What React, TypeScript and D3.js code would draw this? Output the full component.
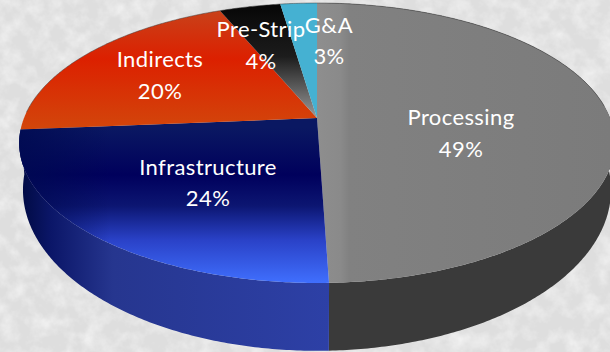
import React, { useMemo } from "react";
import * as d3 from "d3";

// Cost breakdown, percent of total, clockwise from twelve o'clock.
const categories = ["Processing", "Infrastructure", "Indirects", "Pre-Strip", "G&A"];
const shares = [49, 24, 20, 4, 3];
const shareLabels = ["49%", "24%", "20%", "4%", "3%"];
const topFills = ["url(#procTop)", "url(#infraTop)", "url(#indTop)", "url(#preTop)", "#45b1d2"];
// Only the two front slices show a side wall; the rest sit behind the disc.
const wallFills = ["#3a3a3a", "url(#infraWall)", null, null, null];
const labelCentres: [number, number, number][] = [
  [461, 125, 157],
  [208, 175, 206],
  [160, 67, 99],
  [261, 37, 69],
  [329, 33, 64],
];

const W = 610;
const H = 352;

// Perspective disc: apex of the slices and the lens foreshortening factor.
const apex = { x: 317, y: 118 };
const lens = -50 / 280;
const rimTop = { sx: 293, sy: 135.5, dy: 0 };
const rimBottom = { sx: 289.3, sy: 155.9, dy: 43 };

// Slight angular drift of the lens, fading out at twelve o'clock.
const skew = (a: number) =>
  a + ((3.4 * Math.PI) / 180) * (a / (2 * Math.PI)) * Math.pow(Math.abs(Math.sin(a / 2)), 0.15);

function project(a: number, rim: { sx: number; sy: number; dy: number }): [number, number] {
  const t = skew(a);
  const ux = Math.sin(t);
  const uy = -Math.cos(t);
  const w = 1 + lens * uy;
  return [apex.x + (rim.sx * ux) / w, apex.y + rim.dy + (rim.sy * uy) / w];
}

function arcSamples(a0: number, a1: number): number[] {
  const n = Math.max(4, Math.ceil((a1 - a0) / 0.01));
  return d3.range(n + 1).map((i) => a0 + ((a1 - a0) * i) / n);
}

export default function App() {
  const slices = useMemo(
    () => d3.pie<number>().sort(null).startAngle(0).endAngle(2 * Math.PI)(shares),
    []
  );
  const line = d3.line();

  const topPath = (s: d3.PieArcDatum<number>) => {
    const rim = arcSamples(s.startAngle, s.endAngle).map((a) => project(a, rimTop));
    return line([[apex.x, apex.y], ...rim]) + "Z";
  };
  const wallPath = (s: d3.PieArcDatum<number>) => {
    const angles = arcSamples(s.startAngle, s.endAngle);
    const upper = angles.map((a) => project(a, rimTop));
    const lower = angles.map((a) => project(a, rimBottom)).reverse();
    return line([...upper, ...lower]) + "Z";
  };

  return (
    <svg
      width={W}
      height={H}
      viewBox={`0 0 ${W} ${H}`}
      style={{ position: "absolute", left: 0, top: 0, display: "block" }}
    >
      <defs>
        <filter id="marble" x="0" y="0" width="100%" height="100%">
          <feTurbulence type="fractalNoise" baseFrequency="0.06" numOctaves="4" seed="7" />
          <feColorMatrix
            type="matrix"
            values="0 0 0 0 1  0 0 0 0 1  0 0 0 0 1  1.1 0 0 0 -0.42"
          />
        </filter>
        <linearGradient id="procTop" gradientUnits="userSpaceOnUse" x1="317" y1="0" x2="610" y2="0">
          <stop offset="0" stopColor="#8e8e8e" />
          <stop offset="0.08" stopColor="#8a8a8a" />
          <stop offset="0.11" stopColor="#818181" />
          <stop offset="1" stopColor="#7b7b7b" />
        </linearGradient>
        <linearGradient id="infraTop" gradientUnits="userSpaceOnUse" x1="0" y1="128" x2="0" y2="284">
          <stop offset="0" stopColor="#0a1862" />
          <stop offset="0.3" stopColor="#00005c" />
          <stop offset="0.5" stopColor="#0c1672" />
          <stop offset="0.72" stopColor="#2a42c8" />
          <stop offset="1" stopColor="#4070ff" />
        </linearGradient>
        <linearGradient id="infraShade" gradientUnits="userSpaceOnUse" x1="20" y1="0" x2="110" y2="0">
          <stop offset="0" stopColor="#000a50" stopOpacity="0.8" />
          <stop offset="1" stopColor="#000a50" stopOpacity="0" />
        </linearGradient>
        <linearGradient id="infraWall" gradientUnits="userSpaceOnUse" x1="20" y1="0" x2="330" y2="0">
          <stop offset="0" stopColor="#000a42" />
          <stop offset="0.1" stopColor="#0b1668" />
          <stop offset="0.3" stopColor="#26368f" />
          <stop offset="1" stopColor="#2d40a6" />
        </linearGradient>
        <linearGradient id="indTop" gradientUnits="userSpaceOnUse" x1="0" y1="10" x2="0" y2="132">
          <stop offset="0" stopColor="#c8421a" />
          <stop offset="0.4" stopColor="#dc2000" />
          <stop offset="1" stopColor="#d2480c" />
        </linearGradient>
        <linearGradient id="preTop" gradientUnits="userSpaceOnUse" x1="0" y1="6" x2="0" y2="118">
          <stop offset="0" stopColor="#070707" />
          <stop offset="0.45" stopColor="#1c1c1c" />
          <stop offset="1" stopColor="#9a9a9a" />
        </linearGradient>
      </defs>

      <rect width={W} height={H} fill="#dedede" />
      <rect width={W} height={H} filter="url(#marble)" />

      {slices.map((s, i) =>
        wallFills[i] ? (
          <path key={`wall-${categories[i]}`} d={wallPath(s)} fill={wallFills[i] as string} />
        ) : null
      )}
      {slices.map((s, i) => (
        <path key={`top-${categories[i]}`} d={topPath(s)} fill={topFills[i]} />
      ))}
      <path d={topPath(slices[1])} fill="url(#infraShade)" />
      <path
        d={line(arcSamples(Math.PI * 1.5, Math.PI * 2.45).map((a) => project(a, rimTop))) ?? ""}
        fill="none"
        stroke="#3c3c3c"
        strokeOpacity={0.5}
        strokeWidth={1}
      />

      {categories.map((c, i) => {
        const [x, y1, y2] = labelCentres[i];
        const font = {
          fontFamily: "Lato, sans-serif",
          fontSize: 22,
          letterSpacing: 0.4,
          fill: "#ffffff",
          textAnchor: "middle" as const,
        };
        return (
          <g key={`label-${c}`}>
            <text x={x} y={y1} {...font}>{c}</text>
            <text x={x} y={y2} {...font}>{shareLabels[i]}</text>
          </g>
        );
      })}
    </svg>
  );
}
